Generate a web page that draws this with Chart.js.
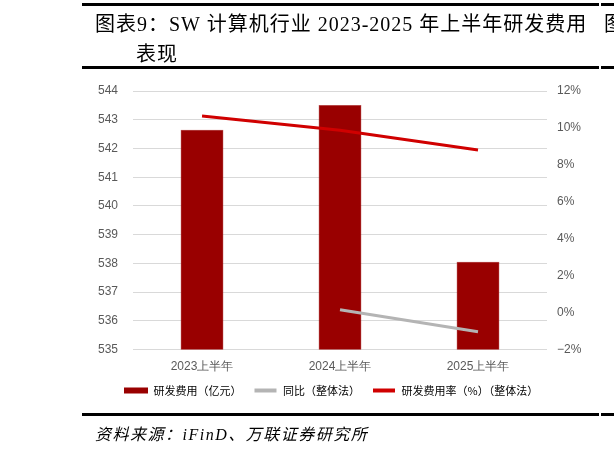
<!DOCTYPE html>
<html>
<head>
<meta charset="utf-8">
<script src="https://cdn.jsdelivr.net/npm/chart.js@4.4.1/dist/chart.umd.min.js"></script>
<style>
  html, body { margin: 0; padding: 0; background: #fff; width: 614px; height: 451px; overflow: hidden; }
  #wrap { position: relative; width: 614px; height: 451px; }
  canvas { position: absolute; left: 0; top: 0; }
  .rule { position: absolute; left: 82px; width: 532px; height: 3px; background: #000; }
  .gap { position: absolute; left: 599px; width: 2px; background: #fff; }
  .t { position: absolute; white-space: nowrap; color: #000; font-family: "Liberation Serif", "Noto Sans CJK SC", serif; }
</style>
</head>
<body>
<div id="wrap">
  <canvas id="c" width="614" height="451"></canvas>
  <div class="rule" style="top:3px;"></div>
  <div class="gap" style="top:3px;height:3px;"></div>
  <div class="t" style="left:95px; top:8px; font-size:20px; letter-spacing:1px;">图表9：SW 计算机行业 2023-2025 年上半年研发费用</div>
  <div class="t" style="left:604px; top:8px; font-size:20px;">图</div>
  <div class="t" style="left:136px; top:38px; font-size:20px; letter-spacing:1px;">表现</div>
  <div class="rule" style="top:66px;"></div>
  <div class="gap" style="top:66px;height:3px;"></div>
  <div class="rule" style="top:413px;"></div>
  <div class="gap" style="top:413px;height:3px;"></div>
  <div class="t" style="left:95px; top:421px; font-size:16px; font-style:italic; letter-spacing:1.5px;">资料来源：iFinD、万联证券研究所</div>
</div>
<script>
const categories = ["2023上半年", "2024上半年", "2025上半年"];
const rdExpense = [542.65, 543.51, 538.06];      // 研发费用（亿元）
const yoyGrowth = [null, 0.16, -1.03];           // 同比（整体法） %
const rdRatio = [10.65, 9.88, 8.81];             // 研发费用率（%）（整体法）
const seriesNames = ["研发费用（亿元）", "同比（整体法）", "研发费用率（%）（整体法）"];

const BAR = "#990000", GRAY = "#b4b4b4", RED = "#d00000";
const tickFont = { family: "'Liberation Sans', Arial, sans-serif", size: 12 };

const shiftLegend = {
  id: "shiftLegend",
  afterLayout(chart) {
    if (chart.legend) { chart.legend.left = 112; }
  }
};

new Chart(document.getElementById("c"), {
  type: "bar",
  data: {
    labels: categories,
    datasets: [
      { type: "bar", label: seriesNames[0], data: rdExpense, yAxisID: "y", order: 3,
        backgroundColor: BAR, borderColor: "#a82020", borderWidth: 0.5,
        categoryPercentage: 1.0, barPercentage: 0.31 },
      { type: "line", label: seriesNames[1], data: yoyGrowth, yAxisID: "y1", order: 2,
        borderColor: GRAY, backgroundColor: GRAY, borderWidth: 3, pointRadius: 0, tension: 0 },
      { type: "line", label: seriesNames[2], data: rdRatio, yAxisID: "y1", order: 1,
        borderColor: RED, backgroundColor: RED, borderWidth: 3, pointRadius: 0, tension: 0 }
    ]
  },
  plugins: [shiftLegend],
  options: {
    responsive: false,
    animation: false,
    devicePixelRatio: 1,
    layout: { padding: { left: 83, right: 0, top: 91, bottom: 45 } },
    plugins: {
      tooltip: { enabled: false },
      legend: {
        position: "bottom",
        align: "start",
        labels: {
          boxWidth: 24,
          boxHeight: 6,
          padding: 12,
          color: "#595959",
          font: { family: "'Noto Sans CJK SC', sans-serif", size: 11 },
          generateLabels(chart) {
            return chart.data.datasets.map((ds, i) => ({
              text: ds.label,
              fillStyle: ds.type === "bar" ? ds.backgroundColor : ds.borderColor,
              strokeStyle: "#ffffff",
              lineWidth: ds.type === "bar" ? 0 : 2,
              hidden: false,
              datasetIndex: i
            }));
          }
        }
      }
    },
    scales: {
      x: {
        grid: { display: false, drawTicks: false },
        border: { display: false },
        ticks: { color: "#595959", font: tickFont, padding: 10 },
        afterFit(s) { s.height -= 11; }
      },
      y: {
        position: "left",
        min: 535, max: 544,
        ticks: { stepSize: 1, color: "#595959", font: tickFont, padding: 15 },
        grid: { color: "#d9d9d9", lineWidth: 1, drawTicks: false },
        border: { display: false }
      },
      y1: {
        position: "right",
        min: -2, max: 12,
        ticks: { stepSize: 2, color: "#595959", font: tickFont, padding: 10,
          callback: v => (v < 0 ? "\u2212" + Math.abs(v) : v) + "%" },
        grid: { display: false, drawTicks: false },
        border: { display: false },
        afterFit(s) { s.width = 67; }
      }
    }
  }
});
</script>
</body>
</html>
